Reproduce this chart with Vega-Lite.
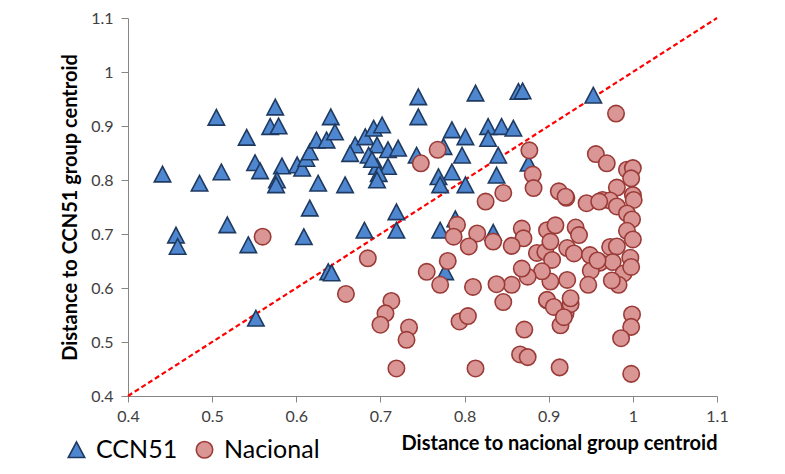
{
  "$schema": "https://vega.github.io/schema/vega-lite/v6.json",
  "width": 589,
  "height": 378,
  "autosize": {"type": "none"},
  "padding": {"left": 128, "top": 18, "right": 68, "bottom": 78},
  "background": "white",
  "config": {"font": "Lato", "view": {"stroke": null}},
  "datasets": {
    "diag": [{"x": 0.4, "y": 0.4}, {"x": 1.1, "y": 1.1}],
    "points": [
      {"x":0.441,"y":0.811,"group":"CCN51"},{"x":0.485,"y":0.794,"group":"CCN51"},{"x":0.505,"y":0.916,"group":"CCN51"},{"x":0.511,"y":0.815,"group":"CCN51"},{"x":0.541,"y":0.879,"group":"CCN51"},{"x":0.551,"y":0.832,"group":"CCN51"},{"x":0.557,"y":0.817,"group":"CCN51"},{"x":0.575,"y":0.935,"group":"CCN51"},{"x":0.569,"y":0.899,"group":"CCN51"},{"x":0.579,"y":0.900,"group":"CCN51"},{"x":0.583,"y":0.826,"group":"CCN51"},{"x":0.577,"y":0.800,"group":"CCN51"},{"x":0.576,"y":0.791,"group":"CCN51"},{"x":0.601,"y":0.828,"group":"CCN51"},{"x":0.607,"y":0.822,"group":"CCN51"},{"x":0.612,"y":0.840,"group":"CCN51"},{"x":0.616,"y":0.852,"group":"CCN51"},{"x":0.624,"y":0.874,"group":"CCN51"},{"x":0.636,"y":0.874,"group":"CCN51"},{"x":0.641,"y":0.917,"group":"CCN51"},{"x":0.646,"y":0.889,"group":"CCN51"},{"x":0.626,"y":0.794,"group":"CCN51"},{"x":0.616,"y":0.748,"group":"CCN51"},{"x":0.658,"y":0.791,"group":"CCN51"},{"x":0.670,"y":0.865,"group":"CCN51"},{"x":0.664,"y":0.849,"group":"CCN51"},{"x":0.682,"y":0.880,"group":"CCN51"},{"x":0.692,"y":0.896,"group":"CCN51"},{"x":0.702,"y":0.902,"group":"CCN51"},{"x":0.696,"y":0.865,"group":"CCN51"},{"x":0.686,"y":0.846,"group":"CCN51"},{"x":0.709,"y":0.856,"group":"CCN51"},{"x":0.721,"y":0.859,"group":"CCN51"},{"x":0.696,"y":0.825,"group":"CCN51"},{"x":0.709,"y":0.825,"group":"CCN51"},{"x":0.698,"y":0.812,"group":"CCN51"},{"x":0.696,"y":0.800,"group":"CCN51"},{"x":0.690,"y":0.838,"group":"CCN51"},{"x":0.745,"y":0.954,"group":"CCN51"},{"x":0.745,"y":0.917,"group":"CCN51"},{"x":0.743,"y":0.846,"group":"CCN51"},{"x":0.785,"y":0.893,"group":"CCN51"},{"x":0.801,"y":0.880,"group":"CCN51"},{"x":0.797,"y":0.846,"group":"CCN51"},{"x":0.775,"y":0.862,"group":"CCN51"},{"x":0.785,"y":0.815,"group":"CCN51"},{"x":0.769,"y":0.806,"group":"CCN51"},{"x":0.771,"y":0.791,"group":"CCN51"},{"x":0.801,"y":0.791,"group":"CCN51"},{"x":0.813,"y":0.961,"group":"CCN51"},{"x":0.864,"y":0.964,"group":"CCN51"},{"x":0.869,"y":0.965,"group":"CCN51"},{"x":0.828,"y":0.899,"group":"CCN51"},{"x":0.844,"y":0.899,"group":"CCN51"},{"x":0.858,"y":0.896,"group":"CCN51"},{"x":0.828,"y":0.877,"group":"CCN51"},{"x":0.840,"y":0.846,"group":"CCN51"},{"x":0.838,"y":0.809,"group":"CCN51"},{"x":0.953,"y":0.957,"group":"CCN51"},{"x":0.876,"y":0.831,"group":"CCN51"},{"x":0.457,"y":0.698,"group":"CCN51"},{"x":0.459,"y":0.677,"group":"CCN51"},{"x":0.518,"y":0.717,"group":"CCN51"},{"x":0.543,"y":0.680,"group":"CCN51"},{"x":0.609,"y":0.695,"group":"CCN51"},{"x":0.681,"y":0.707,"group":"CCN51"},{"x":0.719,"y":0.741,"group":"CCN51"},{"x":0.719,"y":0.707,"group":"CCN51"},{"x":0.771,"y":0.707,"group":"CCN51"},{"x":0.789,"y":0.728,"group":"CCN51"},{"x":0.834,"y":0.703,"group":"CCN51"},{"x":0.638,"y":0.630,"group":"CCN51"},{"x":0.642,"y":0.628,"group":"CCN51"},{"x":0.552,"y":0.544,"group":"CCN51"},{"x":0.777,"y":0.630,"group":"CCN51"},
      {"x":0.560,"y":0.695,"group":"Nacional"},{"x":0.685,"y":0.655,"group":"Nacional"},{"x":0.659,"y":0.589,"group":"Nacional"},{"x":0.713,"y":0.576,"group":"Nacional"},{"x":0.706,"y":0.553,"group":"Nacional"},{"x":0.700,"y":0.532,"group":"Nacional"},{"x":0.719,"y":0.451,"group":"Nacional"},{"x":0.734,"y":0.527,"group":"Nacional"},{"x":0.731,"y":0.504,"group":"Nacional"},{"x":0.794,"y":0.538,"group":"Nacional"},{"x":0.804,"y":0.548,"group":"Nacional"},{"x":0.813,"y":0.451,"group":"Nacional"},{"x":0.846,"y":0.574,"group":"Nacional"},{"x":0.871,"y":0.523,"group":"Nacional"},{"x":0.866,"y":0.477,"group":"Nacional"},{"x":0.875,"y":0.472,"group":"Nacional"},{"x":0.913,"y":0.453,"group":"Nacional"},{"x":0.914,"y":0.531,"group":"Nacional"},{"x":0.920,"y":0.553,"group":"Nacional"},{"x":0.898,"y":0.577,"group":"Nacional"},{"x":0.926,"y":0.570,"group":"Nacional"},{"x":0.999,"y":0.551,"group":"Nacional"},{"x":0.998,"y":0.528,"group":"Nacional"},{"x":0.986,"y":0.507,"group":"Nacional"},{"x":0.998,"y":0.441,"group":"Nacional"},{"x":0.748,"y":0.831,"group":"Nacional"},{"x":0.768,"y":0.856,"group":"Nacional"},{"x":0.980,"y":0.923,"group":"Nacional"},{"x":0.956,"y":0.848,"group":"Nacional"},{"x":0.969,"y":0.831,"group":"Nacional"},{"x":0.877,"y":0.855,"group":"Nacional"},{"x":0.881,"y":0.810,"group":"Nacional"},{"x":0.882,"y":0.785,"group":"Nacional"},{"x":0.846,"y":0.776,"group":"Nacional"},{"x":0.825,"y":0.760,"group":"Nacional"},{"x":0.993,"y":0.819,"group":"Nacional"},{"x":1.000,"y":0.822,"group":"Nacional"},{"x":0.998,"y":0.803,"group":"Nacional"},{"x":0.981,"y":0.786,"group":"Nacional"},{"x":1.000,"y":0.772,"group":"Nacional"},{"x":1.001,"y":0.763,"group":"Nacional"},{"x":0.912,"y":0.779,"group":"Nacional"},{"x":0.921,"y":0.767,"group":"Nacional"},{"x":0.945,"y":0.757,"group":"Nacional"},{"x":0.964,"y":0.763,"group":"Nacional"},{"x":0.973,"y":0.762,"group":"Nacional"},{"x":0.981,"y":0.751,"group":"Nacional"},{"x":0.993,"y":0.738,"group":"Nacional"},{"x":0.999,"y":0.727,"group":"Nacional"},{"x":0.993,"y":0.706,"group":"Nacional"},{"x":0.791,"y":0.717,"group":"Nacional"},{"x":0.787,"y":0.695,"group":"Nacional"},{"x":0.815,"y":0.701,"group":"Nacional"},{"x":0.834,"y":0.686,"group":"Nacional"},{"x":0.868,"y":0.710,"group":"Nacional"},{"x":0.870,"y":0.692,"group":"Nacional"},{"x":0.898,"y":0.707,"group":"Nacional"},{"x":0.908,"y":0.716,"group":"Nacional"},{"x":0.932,"y":0.712,"group":"Nacional"},{"x":0.936,"y":0.698,"group":"Nacional"},{"x":0.805,"y":0.677,"group":"Nacional"},{"x":0.856,"y":0.678,"group":"Nacional"},{"x":0.886,"y":0.665,"group":"Nacional"},{"x":0.896,"y":0.667,"group":"Nacional"},{"x":0.904,"y":0.652,"group":"Nacional"},{"x":0.922,"y":0.674,"group":"Nacional"},{"x":0.930,"y":0.664,"group":"Nacional"},{"x":0.949,"y":0.661,"group":"Nacional"},{"x":0.961,"y":0.647,"group":"Nacional"},{"x":0.973,"y":0.676,"group":"Nacional"},{"x":0.981,"y":0.677,"group":"Nacional"},{"x":0.976,"y":0.648,"group":"Nacional"},{"x":0.989,"y":0.627,"group":"Nacional"},{"x":0.997,"y":0.656,"group":"Nacional"},{"x":0.998,"y":0.639,"group":"Nacional"},{"x":0.950,"y":0.632,"group":"Nacional"},{"x":0.947,"y":0.606,"group":"Nacional"},{"x":0.983,"y":0.606,"group":"Nacional"},{"x":0.975,"y":0.614,"group":"Nacional"},{"x":0.922,"y":0.615,"group":"Nacional"},{"x":0.902,"y":0.612,"group":"Nacional"},{"x":0.892,"y":0.631,"group":"Nacional"},{"x":0.875,"y":0.621,"group":"Nacional"},{"x":0.868,"y":0.636,"group":"Nacional"},{"x":0.856,"y":0.606,"group":"Nacional"},{"x":0.838,"y":0.607,"group":"Nacional"},{"x":0.810,"y":0.602,"group":"Nacional"},{"x":0.771,"y":0.606,"group":"Nacional"},{"x":0.780,"y":0.650,"group":"Nacional"},{"x":0.755,"y":0.630,"group":"Nacional"},{"x":0.898,"y":0.578,"group":"Nacional"},{"x":0.906,"y":0.565,"group":"Nacional"},{"x":0.926,"y":0.581,"group":"Nacional"},{"x":0.918,"y":0.546,"group":"Nacional"},{"x":0.920,"y":0.769,"group":"Nacional"},{"x":0.958,"y":0.651,"group":"Nacional"},{"x":0.902,"y":0.686,"group":"Nacional"},{"x":1.000,"y":0.690,"group":"Nacional"},{"x":0.960,"y":0.760,"group":"Nacional"}
    ]
  },
  "layer": [
    {
      "data": {"name": "diag"},
      "mark": {"type": "line", "color": "#FF0000", "strokeDash": [5, 3], "strokeWidth": 2.2},
      "encoding": {
        "x": {"field": "x", "type": "quantitative", "scale": {"domain": [0.4, 1.1], "nice": false, "zero": false},
          "axis": {"values": [0.4, 0.5, 0.6, 0.7, 0.8, 0.9, 1, 1.1], "format": "~g", "grid": false,
            "domainColor": "#868686", "tickColor": "#868686", "tickSize": 6, "labelFontSize": 16, "labelColor": "#404040",
            "labelPadding": 6, "labelFlush": false, "labelOverlap": false,
            "title": "Distance to nacional group centroid", "titleFontSize": 20, "titleFontWeight": "bold", "titleColor": "#000000",
            "titleAnchor": "end", "titlePadding": 9}},
        "y": {"field": "y", "type": "quantitative", "scale": {"domain": [0.4, 1.1], "nice": false, "zero": false},
          "axis": {"values": [0.4, 0.5, 0.6, 0.7, 0.8, 0.9, 1, 1.1], "format": "~g", "grid": false,
            "domainColor": "#868686", "tickColor": "#868686", "tickSize": 7, "labelFontSize": 16, "labelColor": "#404040",
            "labelPadding": 8, "labelFlush": false, "labelOverlap": false,
            "title": "Distance to CCN51 group centroid", "titleFontSize": 20, "titleFontWeight": "bold", "titleColor": "#000000",
            "titlePadding": 10}}
      }
    },
    {
      "data": {"name": "points"},
      "mark": {"type": "point", "filled": true, "opacity": 1, "strokeWidth": 1.6, "size": 270},
      "encoding": {
        "x": {"field": "x", "type": "quantitative"},
        "y": {"field": "y", "type": "quantitative"},
        "shape": {"field": "group", "type": "nominal",
          "scale": {"domain": ["CCN51", "Nacional"], "range": ["M0,-0.95L-1,0.95L1,0.95Z", "circle"]},
          "legend": {"orient": "none", "legendX": -64, "legendY": 419, "direction": "horizontal", "title": null,
            "labelFontSize": 25, "labelColor": "#000000", "symbolSize": 270, "symbolStrokeWidth": 1.6,
            "columnPadding": 14, "labelOffset": 7}},
        "fill": {"field": "group", "type": "nominal",
          "scale": {"domain": ["CCN51", "Nacional"], "range": ["#4F86D0", "#D99694"]}},
        "stroke": {"field": "group", "type": "nominal",
          "scale": {"domain": ["CCN51", "Nacional"], "range": ["#1F3A60", "#9B3B38"]}}
      }
    }
  ]
}
